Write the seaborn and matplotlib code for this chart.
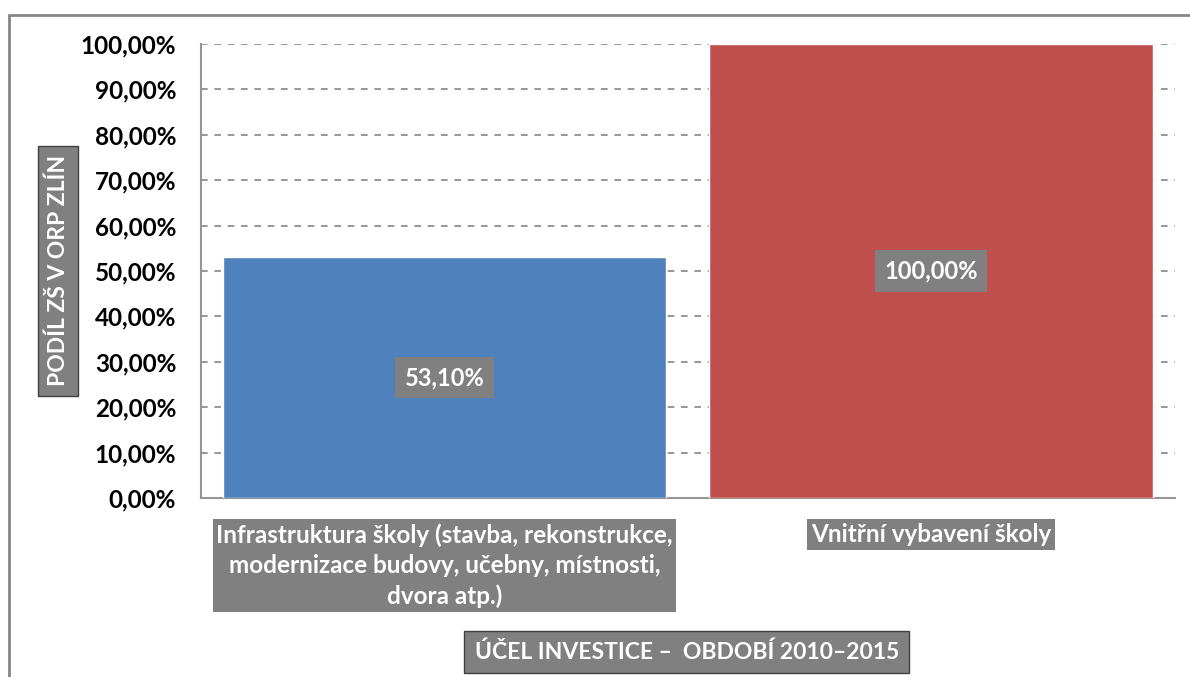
import matplotlib
matplotlib.use("Agg")
import matplotlib.pyplot as plt
from matplotlib.lines import Line2D
from matplotlib.ticker import MultipleLocator, FuncFormatter
import pandas as pd
import seaborn as sns

# data
categories = [
    "Infrastruktura školy (stavba, rekonstrukce,\nmodernizace budovy, učebny, místnosti,\ndvora atp.)",
    "Vnitřní vybavení školy",
]
shares = [53.10, 100.00]
bar_colors = ["#4F81BD", "#C0504D"]
y_title = "PODÍL ZŠ V ORP ZLÍN"
x_title = "ÚČEL INVESTICE –  OBDOBÍ 2010–2015"

sns.set_style("white")
plt.rcParams["font.family"] = ["Lato", "DejaVu Sans"]
plt.rcParams["font.weight"] = "bold"

df = pd.DataFrame({"cat": categories, "share": shares})

fig = plt.figure(figsize=(11.9, 6.77), dpi=100)
ax = fig.add_axes([0.169, 0.2644, 0.818, 0.6706])

sns.barplot(data=df, x="cat", y="share", hue="cat", palette=bar_colors,
            width=0.912, legend=False, ax=ax, saturation=1, zorder=3)

ax.set_ylim(0, 100)
ax.set_xlim(-0.5, 1.5)
ax.yaxis.set_major_locator(MultipleLocator(10))
ax.yaxis.set_major_formatter(FuncFormatter(lambda v, p: f"{v:.2f}".replace(".", ",") + "%"))
ax.grid(axis="y", color="#868686", linestyle=(0, (4, 4)), linewidth=1.2, zorder=0)
ax.grid(axis="x", visible=False)

for s in ["top", "right"]:
    ax.spines[s].set_visible(False)
for s in ["left", "bottom"]:
    ax.spines[s].set_color("#969696")
    ax.spines[s].set_linewidth(1.5)

ax.tick_params(axis="y", which="major", direction="out", length=8, width=1.2,
               color="#969696", labelsize=17.5, labelcolor="black", pad=10)
ax.tick_params(axis="x", length=0, pad=18)

for lbl in ax.get_yticklabels():
    lbl.set_fontweight("bold")

for lbl in ax.get_xticklabels():
    lbl.set_fontsize(17.5)
    lbl.set_fontweight("bold")
    lbl.set_color("white")
    lbl.set_linespacing(1.38)
    lbl.set_verticalalignment("top")
    lbl.set_bbox(dict(boxstyle="square,pad=0.15", facecolor="#808080", edgecolor="none"))

# data labels in the middle of each bar
for i, v in enumerate(shares):
    ax.text(i, v / 2, f"{v:.2f}".replace(".", ",") + "%", ha="center", va="center",
            fontsize=17, fontweight="bold", color="white", zorder=5,
            bbox=dict(boxstyle="square,pad=0.4", facecolor="#808080", edgecolor="none"))

ax.set_xlabel("")
ax.set_ylabel("")

fig.text(0.0487, 0.6, y_title, rotation=90, ha="center", va="center",
         fontsize=16.5, fontweight="bold", color="white",
         bbox=dict(boxstyle="square,pad=0.4", facecolor="#808080", edgecolor="#404040", linewidth=1))
fig.text(0.577, 0.037, x_title, ha="center", va="center",
         fontsize=16.5, fontweight="bold", color="white",
         bbox=dict(boxstyle="square,pad=0.45", facecolor="#808080", edgecolor="#404040", linewidth=1))

# outer chart border (top and left visible in the reference)
fig.add_artist(Line2D([0.0076, 1.0], [0.978, 0.978], color="#868686", linewidth=2, transform=fig.transFigure))
fig.add_artist(Line2D([0.0076, 0.0076], [0.0, 0.978], color="#868686", linewidth=2, transform=fig.transFigure))

fig.savefig("out.png", dpi=100)
